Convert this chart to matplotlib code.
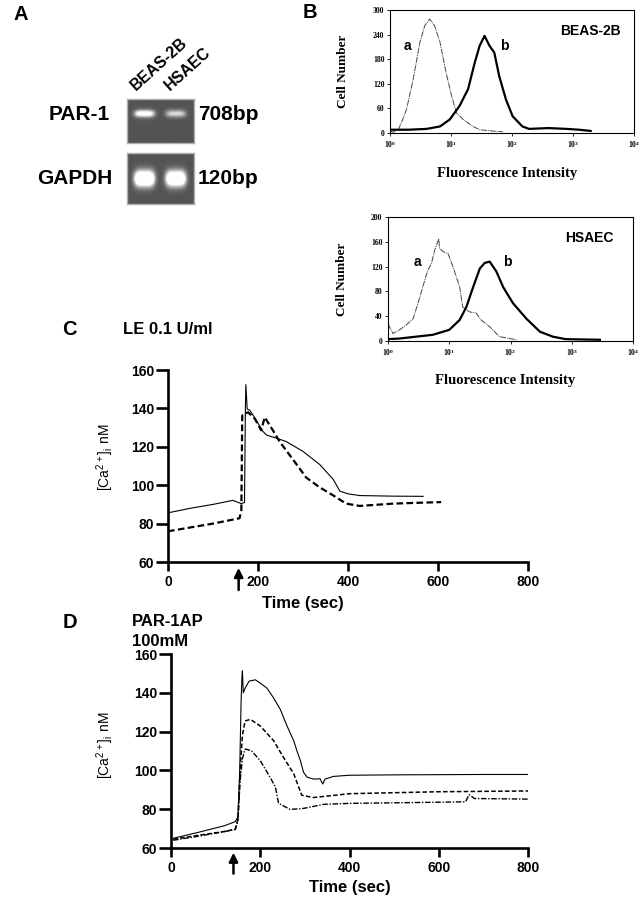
import numpy as np
import matplotlib
matplotlib.use('Agg')
import matplotlib.pyplot as plt

plt.rcParams['font.family'] = ['Liberation Sans', 'DejaVu Sans']
plt.rcParams['mathtext.default'] = 'regular'

W, H = 641, 900

# ---- A: RT-PCR gel
gel_lanes = ['BEAS-2B', 'HSAEC']
lane_pos = [0.26, 0.73]
par1_band = [0.85, 0.55]
gapdh_band = [1.4, 1.3]

# ---- B: flow cytometry, x = log10 fluorescence, y = cell number
beas_a_log = [0.0, 0.05, 0.136, 0.2, 0.27, 0.38, 0.49, 0.57, 0.65, 0.73, 0.82, 0.92, 1.01, 1.09, 1.2, 1.36, 1.47, 1.74, 1.85]
beas_a_n = [5, 2, 8, 30, 57, 131, 221, 262, 278, 262, 221, 147, 90, 49, 33, 16, 8, 4, 3]
beas_b_log = [0.0, 0.3, 0.6, 0.82, 0.98, 1.14, 1.28, 1.39, 1.47, 1.55, 1.63, 1.71, 1.79, 1.9, 2.01, 2.17, 2.28, 2.6, 2.9, 3.1, 3.29]
beas_b_n = [8, 8, 10, 16, 33, 66, 107, 172, 213, 237, 213, 196, 139, 82, 41, 16, 10, 12, 10, 8, 5]
hsaec_a_log = [0.0, 0.08, 0.19, 0.3, 0.41, 0.49, 0.6, 0.65, 0.71, 0.76, 0.83, 0.84, 0.9, 0.98, 1.06, 1.17, 1.22, 1.33, 1.44, 1.52, 1.66, 1.82, 2.1]
hsaec_a_n = [28, 12, 18, 26, 36, 61, 98, 114, 125, 146, 165, 150, 144, 141, 120, 87, 55, 47, 45, 34, 23, 7, 2]
hsaec_b_log = [0.0, 0.19, 0.46, 0.73, 0.9, 1.0, 1.17, 1.28, 1.39, 1.5, 1.58, 1.66, 1.77, 1.88, 2.04, 2.26, 2.48, 2.69, 2.9, 3.46]
hsaec_b_n = [3, 4, 7, 10, 15, 18, 34, 55, 87, 117, 126, 128, 112, 87, 61, 36, 15, 7, 3, 2]

# ---- C: LE 0.1 U/ml
c_t1 = [0, 50, 100, 144, 163, 170, 172, 173, 176, 182, 193, 211, 219, 241, 263, 300, 337, 367, 382, 400, 426, 500, 567]
c_y1 = [85.6, 88, 90, 92.1, 90.4, 91, 140, 152.4, 139.7, 139, 135, 128, 126.1, 124.5, 122.7, 117.6, 110.8, 103.1, 96.9, 95.5, 94.6, 94.3, 94.2]
c_t2 = [0, 50, 100, 159, 163, 165, 178, 193, 207, 215, 233, 248, 278, 307, 337, 367, 396, 426, 500, 550, 607]
c_y2 = [76, 78, 80, 82.8, 87, 136.3, 138, 134.6, 128.6, 135.4, 128.6, 122.7, 113.3, 104, 98.9, 94.7, 90.4, 89.2, 90.4, 90.8, 91.2]

# ---- D: PAR-1AP 100mM
d_t1 = [5, 60, 120, 144, 150, 154, 157, 159, 160, 162, 166, 175, 189, 200, 215, 230, 245, 260, 275, 282, 290, 297, 305, 320, 334, 340, 345, 364, 400, 500, 600, 700, 800]
d_y1 = [65, 68, 71.5, 73.6, 76, 100, 135, 148, 151.3, 140, 142.4, 146, 146.7, 145, 142.4, 137.3, 131.4, 122.9, 115.3, 110.2, 105, 99, 96.5, 95.5, 95.7, 93, 95.5, 96.9, 97.5, 97.7, 97.8, 97.9, 97.9]
d_t2 = [5, 60, 120, 144, 150, 155, 160, 166, 178, 200, 230, 252, 275, 293, 319, 360, 400, 500, 600, 700, 800]
d_y2 = [64.5, 66.5, 68.5, 69.7, 75, 100, 118, 125.5, 126.3, 122.9, 115.3, 106.7, 98.3, 87.2, 86, 87, 88, 88.5, 89, 89.2, 89.4]
d_t3 = [5, 60, 120, 144, 150, 155, 160, 166, 180, 200, 222, 234, 241, 267, 297, 342, 400, 500, 600, 660, 668, 680, 800]
d_y3 = [64, 66, 68.5, 69.5, 74, 95, 106, 111, 110.2, 105, 96.5, 91.4, 83, 79.9, 80.4, 82.5, 83, 83.3, 83.6, 83.8, 87.5, 85.5, 85.2]

arrow_c = 157
arrow_d = 140


def rect(x0, y0, x1, y1):
    # pixel box -> figure fraction
    return [x0 / W, 1 - y1 / H, (x1 - x0) / W, (y1 - y0) / H]


def ftext(x, y, s, **kw):
    fig.text(x / W, 1 - y / H, s, **kw)


def gel(box, bands, cy, h):
    ax = fig.add_axes(rect(*box))
    yy, xx = np.mgrid[0:1:120j, 0:1:180j]
    img = np.full_like(xx, 0.33)
    for cx, a in zip(lane_pos, bands):
        img += a * np.exp(-((xx - cx) / 0.15) ** 4 - ((yy - cy) / h) ** 2)
    ax.imshow(np.clip(img, 0, 1), cmap='gray', vmin=0, vmax=1,
              extent=[0, 1, 1, 0], aspect='auto', interpolation='bilinear')
    ax.set_xticks([])
    ax.set_yticks([])
    for s in ax.spines.values():
        s.set_color('#b0b0b0')
        s.set_linewidth(1)
    return ax


def facs(box, a_log, a_n, b_log, b_n, ymax, ystep, name, ylab_x, xlab_y):
    ax = fig.add_axes(rect(*box))
    ax.plot(np.power(10.0, a_log), a_n, color='#444444', lw=0.7, dashes=(6, 1, 1, 1))
    ax.plot(np.power(10.0, b_log), b_n, color='k', lw=1.6)
    ax.set_xscale('log')
    ax.set_xlim(1, 1e4)
    ax.set_ylim(0, ymax)
    ax.set_xticks([1, 10, 100, 1000, 10000])
    ax.set_xticklabels([r'$10^{%d}$' % i for i in range(5)])
    ax.minorticks_off()
    ax.set_yticks(np.arange(0, ymax + 1, ystep))
    ax.tick_params(direction='out', length=2, width=0.6, labelsize=5.5, pad=2)
    for lb in ax.get_xticklabels() + ax.get_yticklabels():
        lb.set_fontfamily('Liberation Serif')
        lb.set_fontweight('bold')
    for s in ax.spines.values():
        s.set_linewidth(0.8)
    ax.set_ylabel('Cell Number', fontfamily='Liberation Serif', fontweight='bold', fontsize=9.5)
    ax.yaxis.set_label_coords(ylab_x, 0.5)
    ax.set_xlabel('Fluorescence Intensity', fontfamily='Liberation Serif', fontweight='bold', fontsize=10.5)
    ax.xaxis.set_label_coords(0.48, xlab_y)
    ax.text(0.82, 0.83, name, transform=ax.transAxes, ha='center', va='center',
            fontsize=10, fontweight='bold')
    return ax


def calcium(box, arrow_t, xlab_x, xlab_y, ylab_x, ylab_y, arrow_y):
    ax = fig.add_axes(rect(*box))
    ax.patch.set_alpha(0)
    ax.set_xlim(0, 800)
    ax.set_ylim(60, 160)
    ax.set_xticks([0, 200, 400, 600, 800])
    ax.set_yticks([60, 80, 100, 120, 140, 160])
    ax.spines['top'].set_visible(False)
    ax.spines['right'].set_visible(False)
    for s in ('left', 'bottom'):
        ax.spines[s].set_linewidth(1.9)
    ax.tick_params(axis='y', direction='out', length=9, width=1.9, labelsize=10, pad=1)
    ax.tick_params(axis='x', direction='out', length=6.5, width=1.9, labelsize=10, pad=3)
    for lb in ax.get_xticklabels() + ax.get_yticklabels():
        lb.set_fontweight('bold')
    ax.set_xlabel('Time (sec)', fontsize=12, fontweight='bold')
    ax.xaxis.set_label_coords(xlab_x, xlab_y)
    ax.set_ylabel(r'[Ca$^{2+}$]$_i$ nM', fontsize=10)
    ax.yaxis.set_label_coords(ylab_x, ylab_y)
    ax.annotate('', xy=(arrow_t, arrow_y[0]), xytext=(arrow_t, arrow_y[1]),
                xycoords=('data', 'axes fraction'), textcoords=('data', 'axes fraction'),
                annotation_clip=False,
                arrowprops=dict(arrowstyle='-|>', lw=1.8, color='k', mutation_scale=13,
                                shrinkA=0, shrinkB=0))
    return ax


fig = plt.figure(figsize=(W / 100, H / 100), dpi=100)

# ---- panel A
ftext(13, 14, 'A', fontsize=14.5, fontweight='bold', ha='left', va='center')
for x0, lab in zip([136, 170], gel_lanes):
    ftext(x0, 91, lab, fontsize=11.5, fontweight='bold', rotation=42,
          rotation_mode='anchor', ha='left', va='baseline')
gel((127, 99, 194, 143), par1_band, 0.33, 0.08)
gel((127, 153, 194, 204), gapdh_band, 0.5, 0.15)
ftext(110, 115, 'PAR-1', fontsize=15, fontweight='bold', ha='right', va='center')
ftext(112, 178, 'GAPDH', fontsize=15, fontweight='bold', ha='right', va='center')
ftext(198, 115, '708bp', fontsize=15, fontweight='bold', ha='left', va='center')
ftext(198, 178, '120bp', fontsize=15, fontweight='bold', ha='left', va='center')

# ---- panel B
ftext(303, 12, 'B', fontsize=14.5, fontweight='bold', ha='left', va='center')
ax_b1 = facs((390, 10, 634, 133), beas_a_log, beas_a_n, beas_b_log, beas_b_n,
             300, 60, 'BEAS-2B', -0.168, -0.276)
ax_b1.text(0.07, 0.71, 'a', transform=ax_b1.transAxes, fontsize=10, fontweight='bold', ha='center', va='center')
ax_b1.text(0.47, 0.71, 'b', transform=ax_b1.transAxes, fontsize=10, fontweight='bold', ha='center', va='center')
ax_b2 = facs((388, 217, 633, 341), hsaec_a_log, hsaec_a_n, hsaec_b_log, hsaec_b_n,
             200, 40, 'HSAEC', -0.163, -0.266)
ax_b2.text(0.12, 0.64, 'a', transform=ax_b2.transAxes, fontsize=10, fontweight='bold', ha='center', va='center')
ax_b2.text(0.485, 0.64, 'b', transform=ax_b2.transAxes, fontsize=10, fontweight='bold', ha='center', va='center')

# ---- panel C
ftext(62, 329, 'C', fontsize=14.5, fontweight='bold', ha='left', va='center')
ftext(123, 329, 'LE 0.1 U/ml', fontsize=12, fontweight='bold', ha='left', va='center')
ax_c = calcium((168, 370, 528, 562), arrow_c, 0.374, -0.177, -0.145, 0.547, (-0.031, -0.146))
ax_c.plot(c_t1, c_y1, color='k', lw=0.8)
ax_c.plot(c_t2, c_y2, color='k', lw=1.6, dashes=(3, 1.5))

# ---- panel D
ftext(63, 623, 'D', fontsize=14.5, fontweight='bold', ha='left', va='center')
ftext(132, 621, 'PAR-1AP', fontsize=12, fontweight='bold', ha='left', va='center')
ftext(132, 641, '100mM', fontsize=12, fontweight='bold', ha='left', va='center')
ax_d = calcium((171, 654, 528, 848), arrow_d, 0.5, -0.165, -0.155, 0.53, (-0.024, -0.132))
ax_d.plot(d_t1, d_y1, color='k', lw=0.8)
ax_d.plot(d_t2, d_y2, color='k', lw=1.1, dashes=(3, 1.5))
ax_d.plot(d_t3, d_y3, color='k', lw=1.0, dashes=(4, 1.2, 1, 1.2))

fig.savefig('out.png', dpi=100)
